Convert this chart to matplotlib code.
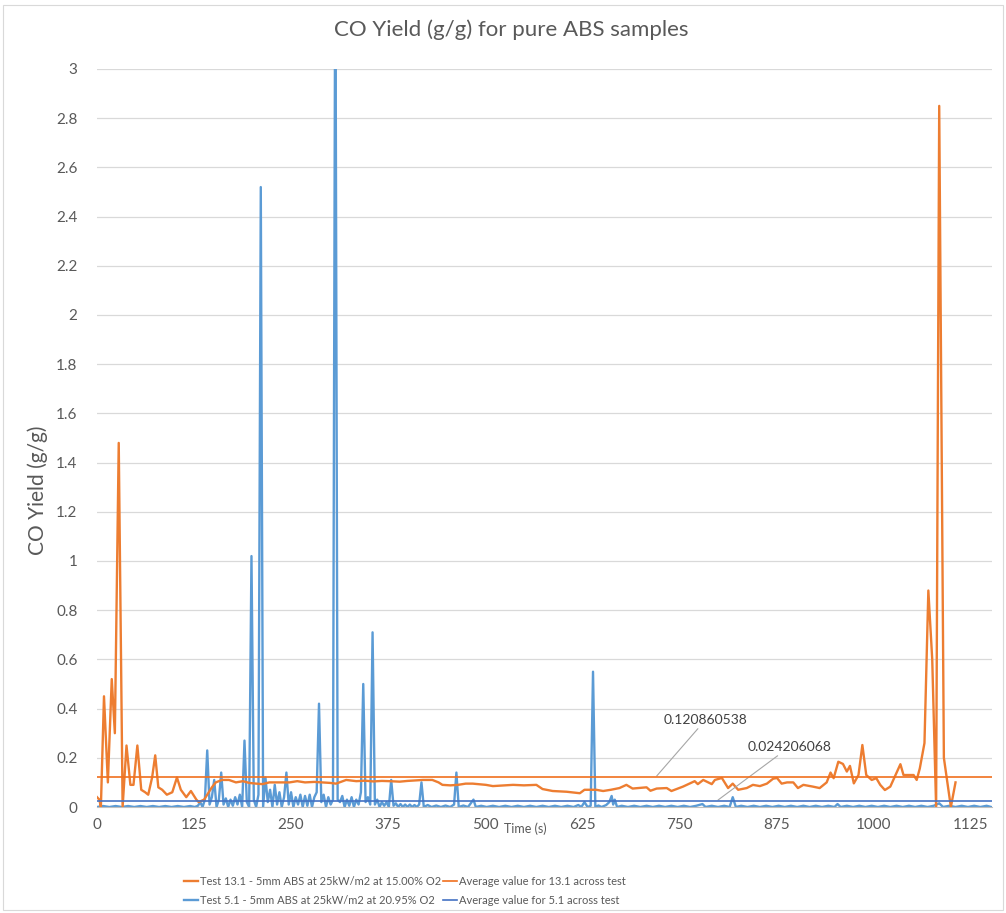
import matplotlib
matplotlib.use("Agg")
import matplotlib.pyplot as plt
from matplotlib.ticker import MultipleLocator, FuncFormatter
from matplotlib.patches import Rectangle

plt.rcParams['font.family'] = ['Lato', 'DejaVu Sans']

# ---------------- data ----------------
title = "CO Yield (g/g) for pure ABS samples"
x_label = "Time (s)"
y_label = "CO Yield (g/g)"
label_13 = "Test 13.1 - 5mm ABS at 25kW/m2 at 15.00% O2"
label_5 = "Test 5.1 - 5mm ABS at 25kW/m2 at 20.95% O2"
label_avg13 = "Average value for 13.1 across test"
label_avg5 = "Average value for 5.1 across test"

avg_13 = 0.120860538
avg_5 = 0.024206068

orange_time = [0, 3, 5, 9, 14, 19, 23, 28, 33, 38,
               43, 47, 52, 57, 62, 66, 71, 75, 79, 84,
               90, 97, 103, 108, 115, 121, 128, 131, 138, 148,
               153, 161, 170, 179, 188, 196, 205, 213, 222, 231,
               240, 248, 258, 268, 280, 290, 300, 308, 321, 334,
               345, 356, 367, 377, 390, 400, 410, 420, 432, 440,
               445, 455, 465, 475, 484, 501, 510, 520, 536, 550,
               566, 574, 587, 605, 622, 628, 643, 652, 662, 673,
               682, 690, 700, 708, 713, 721, 734, 740, 755, 770,
               774, 781, 792, 796, 805, 813, 819, 826, 837, 845,
               854, 863, 871, 876, 882, 889, 897, 903, 910, 922,
               931, 940, 945, 949, 955, 961, 966, 970, 975, 981,
               986, 991, 998, 1004, 1009, 1015, 1022, 1035, 1039, 1052,
               1056, 1060, 1066, 1071, 1076, 1081, 1085, 1091, 1100, 1106]
orange_value = [0.04, 0.03, 0.0, 0.45, 0.10, 0.52, 0.30, 1.48, 0.0, 0.25,
                0.09, 0.09, 0.25, 0.07, 0.06, 0.05, 0.12, 0.21, 0.08, 0.07,
                0.05, 0.06, 0.12, 0.07, 0.04, 0.065, 0.03, 0.02, 0.03, 0.08,
                0.10, 0.11, 0.11, 0.10, 0.105, 0.098, 0.095, 0.093, 0.10, 0.10,
                0.10, 0.10, 0.105, 0.10, 0.102, 0.10, 0.098, 0.095, 0.11, 0.105,
                0.107, 0.104, 0.106, 0.105, 0.103, 0.106, 0.108, 0.11, 0.11, 0.10,
                0.09, 0.088, 0.09, 0.095, 0.095, 0.09, 0.085, 0.087, 0.09, 0.088,
                0.09, 0.073, 0.065, 0.062, 0.056, 0.07, 0.07, 0.065, 0.07, 0.077,
                0.09, 0.075, 0.078, 0.08, 0.066, 0.075, 0.077, 0.065, 0.083, 0.105,
                0.093, 0.11, 0.093, 0.11, 0.118, 0.077, 0.095, 0.07, 0.077, 0.09,
                0.085, 0.095, 0.115, 0.118, 0.095, 0.10, 0.10, 0.077, 0.09, 0.083,
                0.077, 0.10, 0.14, 0.117, 0.184, 0.175, 0.144, 0.167, 0.096, 0.13,
                0.252, 0.13, 0.11, 0.117, 0.09, 0.069, 0.083, 0.174, 0.13, 0.13,
                0.11, 0.157, 0.26, 0.88, 0.60, 0.0, 2.85, 0.20, 0.0, 0.10]

blue_time = [0, 8, 16, 24, 32, 40, 48, 56, 64, 72,
             80, 88, 96, 104, 112, 120, 126,
             130, 133, 136, 139, 142, 145, 148, 151, 154, 157,
             160, 163, 166, 169, 172, 175, 178, 181, 184, 187,
             190, 193, 196, 199, 202, 205, 208, 211, 214, 217,
             220, 223, 226, 229, 232, 235, 238, 241, 244, 247,
             250, 253, 256, 259, 262, 265, 268, 271, 274, 277,
             280, 283, 286, 289, 292, 295, 298, 301, 304, 307,
             310, 313, 316, 319, 322, 325, 328, 331, 334, 337,
             340, 343, 346, 349, 352, 355, 358, 361, 364, 367,
             370, 373, 376, 379, 382, 385, 388, 391, 394, 397,
             400, 403, 406, 409, 412, 415, 418,
             421, 426, 431, 437, 443, 449, 455, 460, 463, 466,
             472, 478, 485, 488, 495, 502, 510, 518, 526, 534,
             542, 550, 558, 566, 574, 582, 590, 598, 606, 614,
             620, 624, 628, 632, 636, 639, 642, 646, 650, 656,
             660, 663, 665, 667, 670, 676, 684, 692, 700, 708,
             716, 724, 732, 740, 748, 756, 764, 772, 780, 784,
             792, 800, 808, 815, 819, 823, 830, 838, 846, 854,
             862, 870, 878, 886, 894, 902, 910, 918, 926, 934,
             942, 950, 954, 958, 966, 974, 982, 990, 998, 1006,
             1014, 1022, 1030, 1038, 1046, 1054, 1062, 1070, 1078, 1085,
             1090, 1098, 1106, 1114, 1122, 1130, 1138, 1146, 1152]
blue_value = [0.0, 0.004, 0.0, 0.004, 0.0, 0.004, 0.0, 0.004, 0.0, 0.004,
              0.0, 0.004, 0.0, 0.004, 0.0, 0.004, 0.0,
              0.005, 0.02, 0.0, 0.03, 0.23, 0.01, 0.04, 0.11, 0.0, 0.03,
              0.14, 0.01, 0.035, 0.0, 0.03, 0.005, 0.04, 0.01, 0.05, 0.0,
              0.27, 0.02, 0.0, 1.02, 0.03, 0.0, 0.05, 2.52, 0.0, 0.12,
              0.02, 0.07, 0.0, 0.09, 0.01, 0.06, 0.0, 0.04, 0.14, 0.01,
              0.06, 0.0, 0.04, 0.01, 0.05, 0.0, 0.045, 0.005, 0.05, 0.0,
              0.04, 0.06, 0.42, 0.02, 0.05, 0.0, 0.04, 0.01, 0.03, 3.6,
              0.03, 0.02, 0.045, 0.0, 0.03, 0.005, 0.04, 0.0, 0.03, 0.01,
              0.06, 0.50, 0.02, 0.04, 0.01, 0.71, 0.01, 0.03, 0.0, 0.02,
              0.005, 0.02, 0.0, 0.11, 0.005, 0.015, 0.0, 0.012, 0.0, 0.01,
              0.0, 0.01, 0.0, 0.008, 0.0, 0.01, 0.10,
              0.0, 0.008, 0.0, 0.006, 0.0, 0.006, 0.0, 0.01, 0.14, 0.0,
              0.006, 0.0, 0.03, 0.0, 0.005, 0.0, 0.005, 0.0, 0.005, 0.0,
              0.005, 0.0, 0.005, 0.0, 0.005, 0.0, 0.005, 0.0, 0.005, 0.0,
              0.008, 0.0, 0.02, 0.0, 0.005, 0.55, 0.0, 0.006, 0.0, 0.008,
              0.02, 0.045, 0.01, 0.03, 0.0, 0.005, 0.0, 0.005, 0.0, 0.005,
              0.0, 0.005, 0.0, 0.005, 0.0, 0.005, 0.0, 0.005, 0.012, 0.0,
              0.005, 0.0, 0.005, 0.0, 0.04, 0.0, 0.005, 0.0, 0.005, 0.0,
              0.005, 0.0, 0.005, 0.0, 0.005, 0.0, 0.005, 0.0, 0.005, 0.0,
              0.005, 0.0, 0.012, 0.0, 0.005, 0.0, 0.005, 0.0, 0.005, 0.0,
              0.005, 0.0, 0.005, 0.0, 0.005, 0.0, 0.005, 0.0, 0.005, 0.015,
              0.0, 0.005, 0.0, 0.005, 0.0, 0.005, 0.0, 0.005, 0.0]

assert len(orange_time) == len(orange_value)
assert len(blue_time) == len(blue_value)

x_ticks = [0, 125, 250, 375, 500, 625, 750, 875, 1000, 1125]

# ---------------- style ----------------
c_orange = "#ED7D31"
c_orange_avg = "#F0701E"
c_blue = "#5B9BD5"
c_blue_avg = "#4472C4"
c_text = "#595959"
c_grid = "#D9D9D9"

W, H = 1006, 913
fig = plt.figure(figsize=(W / 100, H / 100), dpi=100)
fig.patches.append(Rectangle((0.003, 0.003), 0.994, 0.992, transform=fig.transFigure,
                             fill=False, edgecolor="#D9D9D9", linewidth=0.8))

left, right, top, bottom = 97, 992, 69, 807
ax = fig.add_axes([left / W, 1 - bottom / H, (right - left) / W, (bottom - top) / H])

ax.plot(orange_time, orange_value, color=c_orange, lw=1.7, label=label_13,
        solid_joinstyle='round', zorder=3)
ax.plot(blue_time, blue_value, color=c_blue, lw=1.7, label=label_5,
        solid_joinstyle='round', zorder=2)
ax.axhline(avg_13, color=c_orange_avg, lw=1.2, label=label_avg13, zorder=4)
ax.axhline(avg_5, color=c_blue_avg, lw=1.2, label=label_avg5, zorder=4)

ax.set_xlim(0, 1153)
ax.set_ylim(0, 3)
ax.set_xticks(x_ticks)
ax.yaxis.set_major_locator(MultipleLocator(0.2))
ax.yaxis.set_major_formatter(FuncFormatter(lambda v, p: f"{round(v, 1):g}"))
ax.grid(axis='y', color=c_grid, lw=0.9)
ax.set_axisbelow(True)
for s in ['left', 'right', 'top']:
    ax.spines[s].set_visible(False)
ax.spines['bottom'].set_color("#BFBFBF")
ax.tick_params(length=0, colors=c_text, labelsize=11)
ax.tick_params(axis='y', pad=14)
ax.tick_params(axis='x', pad=8)

fig.text(0.508, 1 - 30 / H, title, ha='center', va='center', fontsize=16, color=c_text)
fig.text(38 / W, 1 - 490 / H, y_label, rotation=90, ha='center', va='center',
         fontsize=15, color=c_text)
fig.text(525 / W, 1 - 829 / H, x_label, ha='center', va='center', fontsize=9, color=c_text)

# data labels for average lines
ax.annotate(f"{avg_13:.9f}", xy=(721, avg_13 + 0.005), xytext=(730, 0.354),
            fontsize=10, color="#404040", va='center', ha='left',
            arrowprops=dict(arrowstyle='-', color="#A6A6A6", lw=0.8,
                            shrinkA=0, shrinkB=0))
ax.annotate(f"{avg_5:.9f}", xy=(800, avg_5 + 0.004), xytext=(838, 0.244),
            fontsize=10, color="#404040", va='center', ha='left',
            arrowprops=dict(arrowstyle='-', color="#A6A6A6", lw=0.8,
                            shrinkA=0, shrinkB=0))

handles, labels = ax.get_legend_handles_labels()
fig.legend(handles, labels, loc='center', bbox_to_anchor=(405 / W, 1 - 891 / H), ncol=2,
           frameon=False, fontsize=8, handlelength=1.2, handletextpad=0.2,
           columnspacing=0.2, labelcolor=c_text, labelspacing=0.7)

fig.savefig("out.png", dpi=100)
